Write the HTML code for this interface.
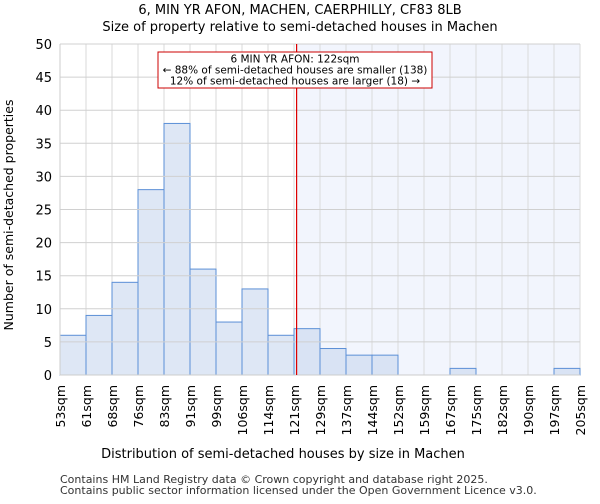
<!DOCTYPE html>
<html><head><meta charset="utf-8"><style>
body{margin:0;background:#fff;font-family:"DejaVu Sans","Liberation Sans",sans-serif}
text{font-family:"DejaVu Sans","Liberation Sans",sans-serif}
</style></head><body>
<svg id="c" width="600" height="500" xmlns="http://www.w3.org/2000/svg">
<text x="300" y="14" text-anchor="middle" font-size="13">6, MIN YR AFON, MACHEN, CAERPHILLY, CF83 8LB</text>
<text x="300" y="31" text-anchor="middle" font-size="13">Size of property relative to semi-detached houses in Machen</text>
<g id="plot"></g>
<text x="283" y="458" text-anchor="middle" font-size="13">Distribution of semi-detached houses by size in Machen</text>
<text transform="translate(13,215) rotate(-90)" text-anchor="middle" font-size="12.5">Number of semi-detached properties</text>
<text x="60" y="483" font-size="11" fill="#333">Contains HM Land Registry data © Crown copyright and database right 2025.</text>
<text x="60" y="494" font-size="11" fill="#333">Contains public sector information licensed under the Open Government Licence v3.0.</text>
</svg>
<script>
const categories=["53sqm","61sqm","68sqm","76sqm","83sqm","91sqm","99sqm","106sqm","114sqm","121sqm","129sqm","137sqm","144sqm","152sqm","159sqm","167sqm","175sqm","182sqm","190sqm","197sqm","205sqm"];
const counts=[6,9,14,28,38,16,8,13,6,7,4,3,3,0,0,1,0,0,0,1];
const yTicks=[0,5,10,15,20,25,30,35,40,45,50];
const markerBin=9.1;
const NS="http://www.w3.org/2000/svg";
const L=60,R=580,T=44,B=375,nb=counts.length,bw=(R-L)/nb;
const x=i=>L+i*bw, y=v=>B-(v/50)*(B-T);
const g=document.getElementById('plot');
function mk(t,a,p){const e=document.createElementNS(NS,t);for(const k in a)e.setAttribute(k,a[k]);(p||g).appendChild(e);return e;}
const mx=x(markerBin);
let e=mk('rect',{x:mx,y:T,width:R-mx,height:B-T,fill:'#f2f5fd'});


for(let i=0;i<=nb;i++){mk('line',{x1:x(i),x2:x(i),y1:T,y2:B,stroke:'#dadada','stroke-width':1});}
counts.forEach((v,i)=>{if(v<=0)return;const b=mk('rect',{x:x(i),y:y(v),width:bw,height:B-y(v),fill:'rgba(200,215,238,0.6)',stroke:'#5b8fd6','stroke-width':1});

});
yTicks.forEach(t=>{mk('line',{x1:L,x2:R,y1:y(t),y2:y(t),stroke:'#d0d0d0','stroke-width':1});
const tx=mk('text',{x:L-8,y:y(t)+5,'text-anchor':'end','font-size':13});tx.textContent=t;

});
categories.forEach((c,i)=>{const tx=mk('text',{transform:`translate(${x(i)+5},${B+10}) rotate(-90)`,'text-anchor':'end','font-size':12.5});tx.textContent=c;

});
mk('line',{x1:L,x2:L,y1:T,y2:B,stroke:'#ccc'});
mk('line',{x1:L,x2:R,y1:B,y2:B,stroke:'#ccc'});
const rl=mk('line',{x1:mx,x2:mx,y1:T,y2:B,stroke:'#d00','stroke-width':1.2});


const box=mk('rect',{x:158,y:52,width:274,height:36,fill:'#fff',stroke:'#c00','stroke-width':1});


["6 MIN YR AFON: 122sqm","← 88% of semi-detached houses are smaller (138)","12% of semi-detached houses are larger (18) →"].forEach((s,k)=>{const t=mk('text',{x:295,y:62.5+k*11,'text-anchor':'middle','font-size':10.5});t.textContent=s;

});
</script>
</body></html>
